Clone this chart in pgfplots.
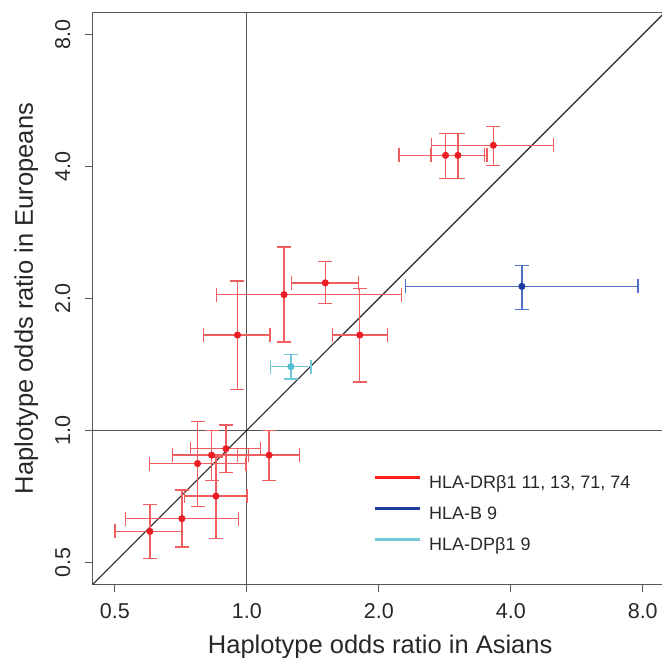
\documentclass[border=0pt]{standalone}
\usepackage{fontspec}
\setmainfont{Liberation Sans}
\usepackage{pgfplots}
\usepackage{pgfplotstable}
\pgfplotsset{compat=1.18}

\definecolor{rpt}{RGB}{235,28,36}
\definecolor{rbar}{RGB}{240,95,95}
\definecolor{bpt}{RGB}{30,60,160}
\definecolor{bbar}{RGB}{80,112,200}
\definecolor{cpt}{RGB}{80,188,208}
\definecolor{cbar}{RGB}{115,200,218}
\definecolor{txt}{RGB}{40,40,40}
\definecolor{frm}{RGB}{85,85,85}
\definecolor{rleg}{RGB}{255,30,30}

% x y and the ends of the two error bars
\pgfplotstableread{
x     y     xlo   xhi   ylo   yhi
2.84  4.24  2.225 3.48  3.76  4.76
3.03  4.24  2.63  3.53  3.76  4.76
3.65  4.47  2.64  5.01  4.02  4.93
0.952 1.65  0.797 1.13  1.24  2.19
1.216 2.04  0.853 2.25  1.59  2.62
1.51  2.17  1.264 1.80  1.95  2.43
1.81  1.65  1.57  2.09  1.29  2.11
0.896 0.908 0.745 1.076 0.80  1.028
0.831 0.878 0.677 1.01  0.77  1.0
1.124 0.878 0.952 1.32  0.77  1.0
0.772 0.84  0.60  0.995 0.67  1.046
0.85  0.708 0.72  1.0   0.567 0.87
0.711 0.629 0.528 0.957 0.542 0.731
0.601 0.588 0.50  0.714 0.51  0.678
}\drb
\pgfplotstableread{
x     y     xlo   xhi   ylo   yhi
4.24  2.13  2.30  7.80  1.89  2.38
}\hlab
\pgfplotstableread{
x     y     xlo   xhi   ylo   yhi
1.26  1.397 1.134 1.40  1.31  1.49
}\dpb

\pgfplotsset{
  ebars/.style={
    only marks, mark=*, mark size=3.3bp,
    error bars/.cd,
      x dir=both, x explicit, y dir=both, y explicit,
      error bar style={line width=1.3bp, color=#1},
      error mark options={rotate=90, mark size=7bp, line width=1.3bp, color=#1},
  },
}

\begin{document}
\begin{tikzpicture}
\path[use as bounding box] (0,0) rectangle (662bp,658bp);
\begin{axis}[
  at={(92.7bp,73.5bp)}, anchor=south west,
  scale only axis,
  width=575bp, height=572bp,
  xmode=log, ymode=log, log basis x=2, log basis y=2,
  xmin=0.445, xmax=9.12, ymin=0.445, ymax=8.98,
  xtick={0.5,1,2,4,8}, xticklabels={0.5,1.0,2.0,4.0,8.0},
  ytick={0.5,1,2,4,8}, yticklabels={0.5,1.0,2.0,4.0,8.0},
  xminorticks=false, yminorticks=false,
  tick pos=left, tick align=outside,
  major tick length=8bp,
  every tick/.style={frm, line width=1.2bp},
  axis line style={frm, line width=1.2bp},
  /pgf/number format/assume math mode=true,
  ticklabel style={font=\fontsize{21.5bp}{24bp}\selectfont, text=txt},
  xticklabel style={yshift=-7bp},
  yticklabel style={rotate=90, anchor=base, yshift=14.7bp},
  xlabel={Haplotype odds ratio in Asians},
  ylabel={Haplotype odds ratio in Europeans},
  label style={font=\fontsize{25.5bp}{28bp}\selectfont, text=txt},
  xlabel style={at={(axis description cs:0.5,0)}, anchor=base, yshift=-68.5bp},
  ylabel style={at={(axis description cs:0,0.5)}, anchor=base, yshift=59.7bp},
  legend cell align=left,
  legend image code/.code={\draw[#1] (0bp,6.4bp) -- (45bp,6.4bp);},
  legend style={draw=none, fill=none, inner sep=0pt,
    at={(axis description cs:0.4875,0.1215)}, anchor=west,
    font=\fontsize{18bp}{20bp}\selectfont, text=txt,
    nodes={inner sep=0pt, text height=13bp, text depth=4bp},
    row sep=14bp,
    /tikz/every odd column/.append style={column sep=8bp}},
]
% reference lines and diagonal
\addplot[frm, line width=1.2bp, forget plot] coordinates {(1,0.445) (1,8.98)};
\addplot[frm, line width=1.2bp, forget plot] coordinates {(0.445,1) (9.12,1)};
\addplot[black!85, line width=1.1bp, forget plot] coordinates {(0.445,0.445) (9.12,9.12)};

\addplot[color=rpt, forget plot, ebars=rbar] table[
  x=x, y=y,
  x error plus expr=\thisrow{xhi}-\thisrow{x}, x error minus expr=\thisrow{x}-\thisrow{xlo},
  y error plus expr=\thisrow{yhi}-\thisrow{y}, y error minus expr=\thisrow{y}-\thisrow{ylo},
] {\drb};
\addplot[color=bpt, forget plot, ebars=bbar] table[
  x=x, y=y,
  x error plus expr=\thisrow{xhi}-\thisrow{x}, x error minus expr=\thisrow{x}-\thisrow{xlo},
  y error plus expr=\thisrow{yhi}-\thisrow{y}, y error minus expr=\thisrow{y}-\thisrow{ylo},
] {\hlab};
\addplot[color=cpt, forget plot, ebars=cbar] table[
  x=x, y=y,
  x error plus expr=\thisrow{xhi}-\thisrow{x}, x error minus expr=\thisrow{x}-\thisrow{xlo},
  y error plus expr=\thisrow{yhi}-\thisrow{y}, y error minus expr=\thisrow{y}-\thisrow{ylo},
] {\dpb};

\addlegendimage{rleg, line width=3bp}
\addlegendentry{HLA-DRβ1 11, 13, 71, 74}
\addlegendimage{bpt, line width=3bp}
\addlegendentry{HLA-B 9}
\addlegendimage{cbar, line width=3bp}
\addlegendentry{HLA-DPβ1 9}
\end{axis}
\end{tikzpicture}
\end{document}
